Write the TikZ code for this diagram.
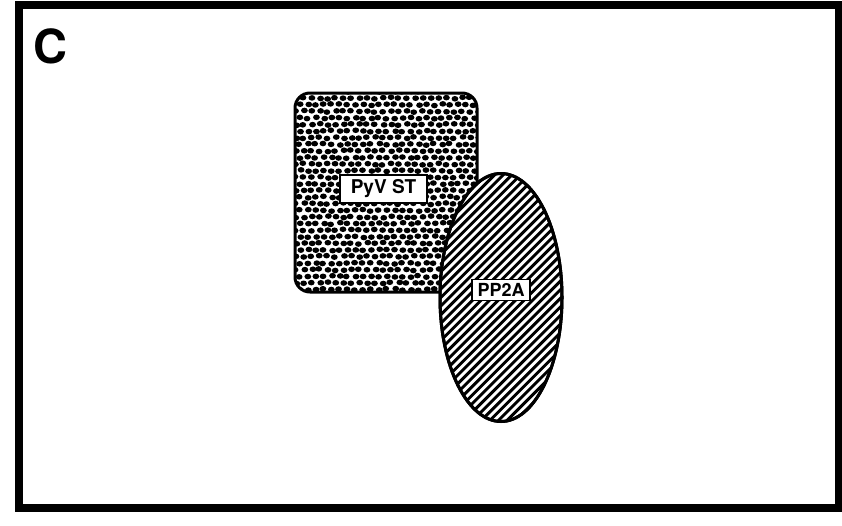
\documentclass[tikz,border=0pt]{standalone}
\usepackage{fontspec}
\setmainfont{TeX Gyre Heros}
\usetikzlibrary{shapes.geometric}

\tikzset{
  frame/.style={line width=8pt},
  stbox/.style={rectangle, rounded corners=15pt, draw, line width=3pt,
    minimum width=182pt, minimum height=199pt, fill=white},
  pp2aoval/.style={ellipse, draw, line width=3pt, fill=white,
    minimum width=122pt, minimum height=248pt, inner sep=0pt},
  tag/.style={rectangle, draw, line width=1.6pt, fill=white,
    font=\bfseries, inner sep=2pt}
}

\begin{document}
\begin{tikzpicture}[x=1pt, y=-1pt]
  \useasboundingbox (0,0) rectangle (842,525);
  \pgfmathsetseed{11}

  % panel frame
  \draw[frame] (19,5) rectangle (839,508);
  \node[font=\fontsize{47}{47}\selectfont\bfseries, anchor=base west, inner sep=0pt] (panel) at (33,63) {C};

  % small t antigen (spots relative to node centre)
  \node[stbox, path picture={
      \foreach \i in {0,...,24} {
        \foreach \j in {0,...,31} {
          \pgfmathsetmacro\dx{-94+7.9*\i+4*mod(\j,2)+1.2*rand}
          \pgfmathsetmacro\dy{-101+6.6*\j+0.9*rand}
          \pgfmathsetmacro\rot{40*rand}
          \fill[black, rotate around={\rot:(\dx,\dy)}] (\dx,\dy) ellipse (3.4 and 2.8);
        }
      }
    }] (pyv) at (386,192.5) {};

  % phosphatase
  \node[pp2aoval, path picture={
      \foreach \k in {-26,...,26}
        \draw[line width=2.9pt] (8.6*\k-200,200) -- ++(400,-400);
    }] (pp2a) at (501,297.5) {};
  \node[pp2aoval, fill=none] at (pp2a) {};

  % labels
  \node[tag, font=\fontsize{19}{19}\selectfont\bfseries, minimum width=87pt, minimum height=28pt] (stlabel) at (383.5,189) {PyV ST};
  \node[tag, font=\fontsize{18}{18}\selectfont\bfseries, minimum width=58pt, minimum height=21pt] (pplabel) at (501,290) {PP2A};
\end{tikzpicture}
\end{document}
